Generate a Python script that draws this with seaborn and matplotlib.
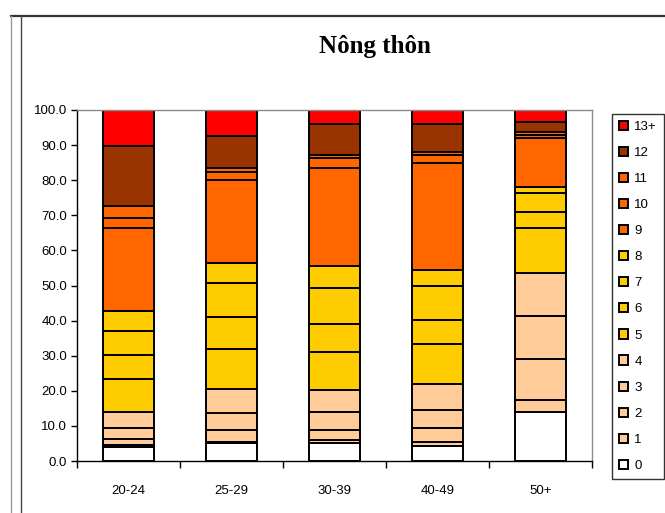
import matplotlib
matplotlib.use("Agg")
import matplotlib.pyplot as plt
from matplotlib.patches import Patch
from matplotlib.lines import Line2D
from matplotlib.ticker import FormatStrFormatter, MultipleLocator
import numpy as np
import pandas as pd
import seaborn as sns

# Age groups and number-of-years-of-schooling categories
age_groups = ["20-24", "25-29", "30-39", "40-49", "50+"]
levels = ["0", "1", "2", "3", "4", "5", "6", "7", "8", "9", "10", "11", "12", "13+"]

# Percentage share of each schooling level within every age group
share_0 = [3.9, 5.0, 5.0, 4.4, 14.0]
share_1 = [0.7, 0.5, 1.0, 0.9, 3.4]
share_2 = [1.7, 3.3, 2.9, 4.0, 11.6]
share_3 = [3.2, 4.8, 5.1, 5.2, 12.3]
share_4 = [4.6, 6.8, 6.2, 7.4, 12.2]
share_5 = [9.2, 11.4, 10.9, 11.4, 13.0]
share_6 = [6.8, 9.1, 8.0, 6.9, 4.5]
share_7 = [6.9, 9.7, 10.3, 9.7, 5.3]
share_8 = [5.6, 5.7, 6.2, 4.5, 1.7]
share_9 = [23.8, 23.8, 28.0, 30.4, 13.9]
share_10 = [2.9, 2.3, 2.6, 2.4, 1.0]
share_11 = [3.3, 1.2, 1.0, 0.9, 0.9]
share_12 = [17.2, 9.1, 8.8, 7.9, 2.9]
share_13p = [10.2, 7.3, 4.0, 4.0, 3.3]

shares = [share_0, share_1, share_2, share_3, share_4, share_5, share_6,
          share_7, share_8, share_9, share_10, share_11, share_12, share_13p]

level_colors = ["#FFFFFF", "#FFCC99", "#FFCC99", "#FFCC99", "#FFCC99",
                "#FFCC00", "#FFCC00", "#FFCC00", "#FFCC00",
                "#FF6600", "#FF6600", "#FF6600", "#993300", "#FF0000"]

plt.rcParams["font.family"] = ["Liberation Sans", "DejaVu Sans"]

fig = plt.figure(figsize=(6.65, 5.13), dpi=100)
fig.patch.set_facecolor("white")
ax = fig.add_axes([77 / 665, 1 - 461 / 513, (592 - 77) / 665, (461 - 110) / 513])

bottom = np.zeros(len(age_groups))
for lvl, vals, col in zip(levels, shares, level_colors):
    df = pd.DataFrame({"age": age_groups, "pct": vals})
    sns.barplot(data=df, x="age", y="pct", order=age_groups, bottom=bottom,
                color=col, saturation=1, width=0.5, errorbar=None,
                edgecolor="black", linewidth=1.4, ax=ax)
    bottom = bottom + np.array(vals)

ax.set_xlim(-0.5, len(age_groups) - 0.5)
ax.set_ylim(0, 100)
ax.set_xlabel("")
ax.set_ylabel("")

# Axis styling
for side in ("left", "bottom"):
    ax.spines[side].set_color("black")
    ax.spines[side].set_linewidth(1.0)
for side in ("top", "right"):
    ax.spines[side].set_color("#8c8c8c")
    ax.spines[side].set_linewidth(1.0)

ax.yaxis.set_major_locator(MultipleLocator(10))
ax.yaxis.set_major_formatter(FormatStrFormatter("%.1f"))
ax.tick_params(axis="y", direction="out", length=4, width=1, pad=3,
               labelsize=9.5, colors="black")
ax.set_xticks(range(len(age_groups)))
ax.set_xticklabels(age_groups)
ax.set_xticks(np.arange(-0.5, len(age_groups), 1.0), minor=True)
ax.tick_params(axis="x", which="major", length=0, pad=17, labelsize=9.5)
ax.tick_params(axis="x", which="minor", direction="out", length=5, width=1)

# Legend, highest level first
handles = [Patch(facecolor=c, edgecolor="black", linewidth=1.4, label=l)
           for l, c in zip(levels[::-1], level_colors[::-1])]
leg = fig.legend(handles=handles, loc="upper left",
                 bbox_to_anchor=(612 / 665, 1 - 114 / 513),
                 frameon=True, fancybox=False, edgecolor="black",
                 fontsize=9.5, handlelength=0.7, handleheight=0.7,
                 handletextpad=0.5, labelspacing=1.05, borderpad=0.5,
                 borderaxespad=0)
leg.get_frame().set_linewidth(1.0)

# Title
fig.text(375 / 665, 1 - 46 / 513, "Nông thôn", ha="center", va="center",
         fontsize=18, fontweight="bold",
         family=["Liberation Serif", "DejaVu Serif"])

# Outer chart frame
fig.add_artist(Line2D([11 / 665, 1.0], [1 - 16 / 513] * 2,
                      transform=fig.transFigure, color="#333333", lw=1.6))
fig.add_artist(Line2D([11 / 665] * 2, [0, 1 - 16 / 513],
                      transform=fig.transFigure, color="#999999", lw=1.0))
fig.add_artist(Line2D([21 / 665] * 2, [0, 1 - 16 / 513],
                      transform=fig.transFigure, color="#444444", lw=1.0))

fig.savefig("out.png", dpi=100, facecolor="white")
